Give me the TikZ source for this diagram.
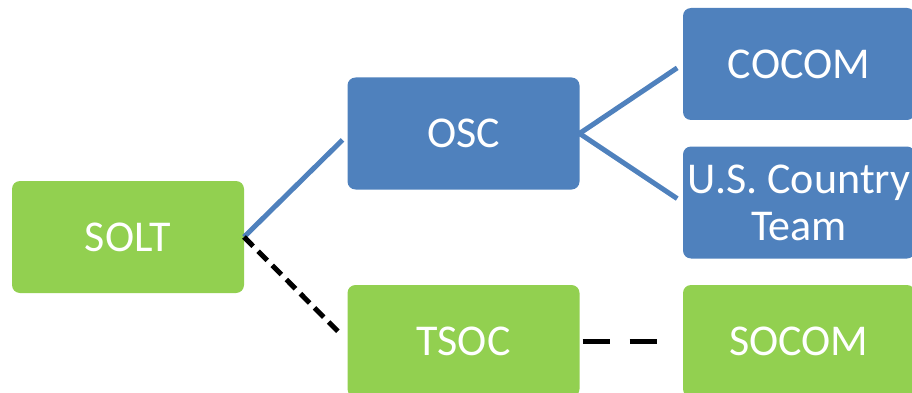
\documentclass[tikz,border=0pt]{standalone}
\usepackage{fontspec}
\setmainfont{Carlito}
\definecolor{boxgreen}{HTML}{92D050}
\definecolor{boxblue}{HTML}{4F81BD}
\tikzset{
  orgbox/.style={rounded corners=8pt, minimum width=232pt, minimum height=112pt,
    inner sep=0pt, outer sep=0pt, text=white, align=center,
    font=\fontsize{44}{47}\selectfont},
  greenbox/.style={orgbox, fill=boxgreen},
  bluebox/.style={orgbox, fill=boxblue},
  solidlink/.style={draw=boxblue, line width=5pt},
  dashlink/.style={draw=black, line width=5pt}
}
\begin{document}
\begin{tikzpicture}[y=1pt, x=1pt, yscale=-1]
\useasboundingbox (0,0) rectangle (912,393);
\clip (0,0) rectangle (912,393);
\begin{scope}
  \node[greenbox] (solt) at (128,237) {SOLT};
  \node[bluebox] (osc) at (463.5,133.5) {OSC};
  \node[greenbox] (tsoc) at (463.5,341) {TSOC};
  \node[bluebox] (cocom) at (799,64) {COCOM};
  \node[bluebox] (ctry) at (799,202.5) {U.S. Country\\Team};
  \node[greenbox] (socom) at (799,341) {SOCOM};
\end{scope}
\begin{scope}
  \draw[solidlink, shorten >=7pt] (solt.east) -- (osc.west |- 0,135);
  \draw[dashlink, dash pattern=on 13pt off 7pt, shorten >=7pt] (solt.east) -- (tsoc.west);
  \draw[solidlink, shorten <=-3pt, shorten >=7pt] (osc.east) -- (cocom.west);
  \draw[solidlink, shorten <=-3pt, shorten >=7pt] (osc.east) -- (ctry.west);
  \draw[dashlink, dash pattern=on 27pt off 20pt, shorten <=3pt, shorten >=23pt] (tsoc.east) -- (socom.west);
\end{scope}
\end{tikzpicture}
\end{document}
